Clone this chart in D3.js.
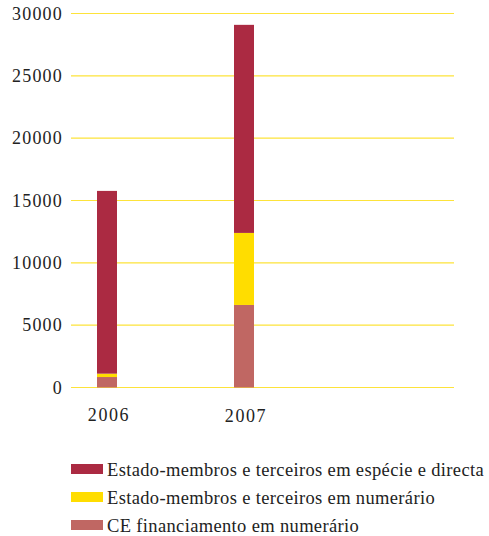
<!DOCTYPE html>
<html><head><meta charset="utf-8">
<script src="https://cdn.jsdelivr.net/npm/d3@7"></script>
<style>body{margin:0;background:#fff}svg{display:block}</style>
</head><body><div id="chart"></div>
<script>
const years = ["2006", "2007"];
const ceFinanciamento = [840, 6620];
const emNumerario = [270, 5780];
const emEspecie = [14660, 16690];
const seriesNames = [
  "Estado-membros e terceiros em espécie e directa",
  "Estado-membros e terceiros em numerário",
  "CE financiamento em numerário"
];
const yTicks = [0, 5000, 10000, 15000, 20000, 25000, 30000];

const W = 489, H = 536;
const colors = {ce: "#c06763", num: "#ffdd00", esp: "#ab2a42"};
const svg = d3.select("#chart").append("svg").attr("width", W).attr("height", H);
const font = "'Liberation Serif', 'DejaVu Serif', serif";

const y = d3.scaleLinear().domain([0, 30000]).range([387.5, 13.5]);
const x = d3.scalePoint().domain(years).range([107, 244]);
const barW = 20;

// gridlines
svg.append("g").selectAll("line").data(yTicks).join("line")
  .attr("x1", 71).attr("x2", 454)
  .attr("y1", d => y(d)).attr("y2", d => y(d))
  .attr("stroke", "#fde33a").attr("stroke-width", 1.2);

// y axis labels
const yAxis = d3.axisLeft(y).tickValues(yTicks).tickSize(0).tickPadding(0).tickFormat(d3.format("d"));
const ga = svg.append("g").attr("transform", "translate(63,0)").call(yAxis);
ga.select(".domain").remove();
ga.attr("font-family", font);
ga.selectAll("text").attr("font-family", font).attr("font-size", 18).attr("fill", "#222")
  .attr("letter-spacing", 1.2);

// stacked bars
const data = years.map((yr, i) => ({year: yr, ce: ceFinanciamento[i], num: emNumerario[i], esp: emEspecie[i]}));
const stack = d3.stack().keys(["ce", "num", "esp"])(data);
svg.append("g").selectAll("g").data(stack).join("g")
  .attr("fill", s => colors[s.key])
  .selectAll("rect").data(s => s).join("rect")
  .attr("x", d => x(d.data.year) - barW / 2)
  .attr("width", barW)
  .attr("y", d => y(d[1]))
  .attr("height", d => y(d[0]) - y(d[1]));

// x labels
svg.append("g").selectAll("text").data(years).join("text")
  .attr("x", d => x(d) + 2).attr("y", (d, i) => 421 + i)
  .attr("text-anchor", "middle")
  .attr("font-family", font).attr("font-size", 18).attr("fill", "#222")
  .attr("letter-spacing", 1.6)
  .text(d => d);

// legend
const legendColors = [colors.esp, colors.num, colors.ce];
const lg = svg.append("g").selectAll("g").data(seriesNames).join("g")
  .attr("transform", (d, i) => `translate(71,${464 + i * 28})`);
lg.append("rect").attr("width", 32).attr("height", 10).attr("fill", (d, i) => legendColors[i]);
lg.append("text").attr("x", 36).attr("y", 12)
  .attr("font-family", font).attr("font-size", 18.5).attr("fill", "#222")
  .attr("letter-spacing", 0.35)
  .text(d => d);
</script></body></html>
